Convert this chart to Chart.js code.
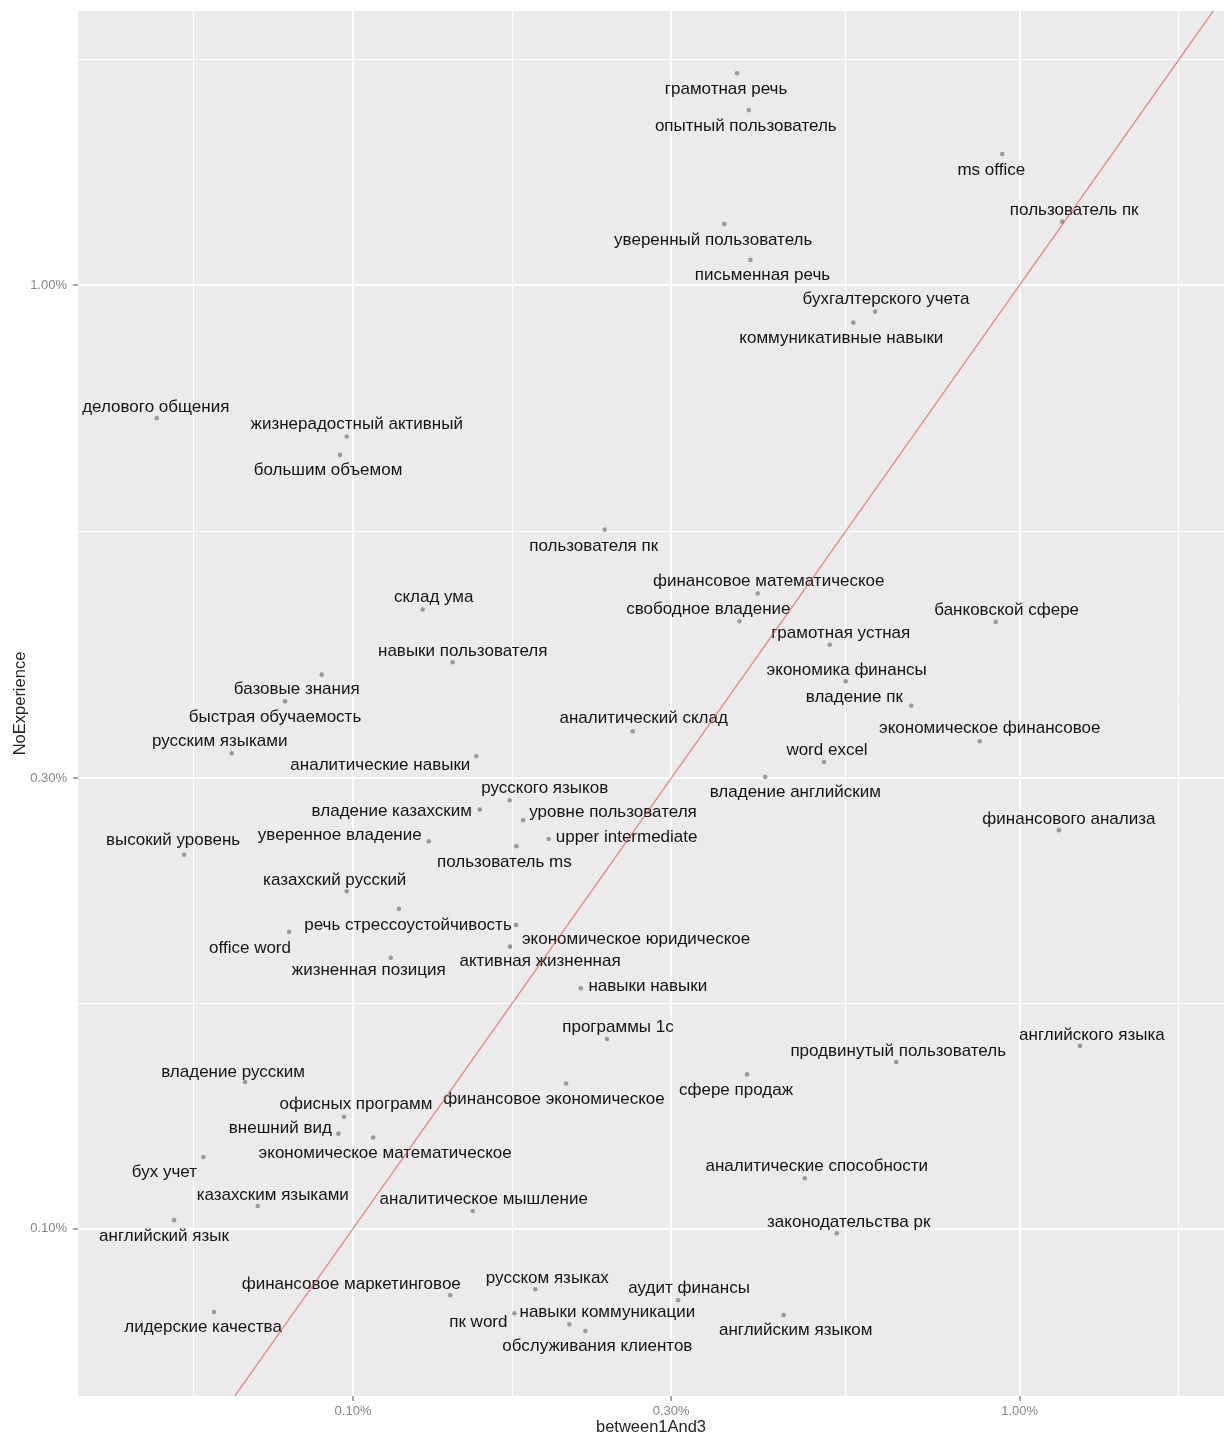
<!DOCTYPE html>
<html>
<head>
<meta charset="utf-8">
<script src="https://cdn.jsdelivr.net/npm/chart.js@4.4.1/dist/chart.umd.min.js"></script>
<style>
  html, body { margin: 0; padding: 0; background: #ffffff; }
  #wrap { width: 1224px; height: 1436px; }
</style>
</head>
<body>
<div id="wrap"><canvas id="termsChart" width="1224" height="1436"></canvas></div>
<script>
// terms and their share (%) among vacancies: between1And3 (x) vs NoExperience (y)
const terms = [
    'грамотная речь', 'опытный пользователь', 'ms office', 'пользователь пк',
    'уверенный пользователь', 'письменная речь', 'бухгалтерского учета', 'коммуникативные навыки',
    'делового общения', 'жизнерадостный активный', 'большим объемом', 'пользователя пк',
    'финансовое математическое', 'склад ума', 'свободное владение', 'банковской сфере',
    'грамотная устная', 'навыки пользователя', 'базовые знания', 'экономика финансы',
    'быстрая обучаемость', 'владение пк', 'аналитический склад', 'экономическое финансовое',
    'русским языками', 'аналитические навыки', 'word excel', 'владение английским',
    'русского языков', 'владение казахским', 'уровне пользователя', 'финансового анализа',
    'upper intermediate', 'уверенное владение', 'пользователь ms', 'высокий уровень',
    'казахский русский', 'речь стрессоустойчивость', 'экономическое юридическое', 'office word',
    'активная жизненная', 'жизненная позиция', 'навыки навыки', 'программы 1с',
    'английского языка', 'продвинутый пользователь', 'сфере продаж', 'владение русским',
    'финансовое экономическое', 'офисных программ', 'внешний вид', 'экономическое математическое',
    'бух учет', 'аналитические способности', 'казахским языками', 'аналитическое мышление',
    'английский язык', 'законодательства рк', 'русском языках', 'финансовое маркетинговое',
    'аудит финансы', 'лидерские качества', 'навыки коммуникации', 'английским языком',
    'пк word', 'обслуживания клиентов'
];

const between1And3 = [
    0.3767, 0.3923, 0.9417, 1.158,
    0.3604, 0.3945, 0.6067, 0.5629,
    0.05077, 0.09785, 0.09561, 0.2385,
    0.4046, 0.1272, 0.3797, 0.9204,
    0.5188, 0.1411, 0.08975, 0.5483,
    0.07907, 0.6877, 0.2627, 0.8710,
    0.06577, 0.1531, 0.5087, 0.4153,
    0.1718, 0.1549, 0.1799, 1.145,
    0.1965, 0.1299, 0.1758, 0.05579,
    0.09785, 0.1172, 0.1756, 0.08017,
    0.1720, 0.1139, 0.2196, 0.2404,
    1.231, 0.6527, 0.3899, 0.06887,
    0.2087, 0.09694, 0.09506, 0.1072,
    0.05964, 0.4760, 0.07196, 0.1512,
    0.05389, 0.5315, 0.1877, 0.1399,
    0.3073, 0.06188, 0.1746, 0.4426,
    0.2111, 0.2231
];

const noExperience = [
    1.676, 1.532, 1.376, 1.167,
    1.160, 1.063, 0.9369, 0.9122,
    0.7225, 0.6909, 0.6605, 0.5505,
    0.4710, 0.4529, 0.4402, 0.4395,
    0.4157, 0.3983, 0.3864, 0.3802,
    0.3621, 0.3582, 0.3366, 0.3285,
    0.3190, 0.3166, 0.3122, 0.3011,
    0.2844, 0.2780, 0.2709, 0.2644,
    0.2588, 0.2573, 0.2542, 0.2490,
    0.2278, 0.2182, 0.2098, 0.2063,
    0.1990, 0.1937, 0.1798, 0.1588,
    0.1562, 0.1502, 0.1457, 0.1430,
    0.1425, 0.1314, 0.1261, 0.1249,
    0.1191, 0.1131, 0.1057, 0.1044,
    0.1021, 0.09888, 0.08626, 0.08500,
    0.08397, 0.08160, 0.08135, 0.08101,
    0.07918, 0.07790
];

// axis breaks and limits (percent)
const xBreaks = [0.1, 0.3, 1.0];
const yBreaks = [0.1, 0.3, 1.0];
const xLimits = [0.03868, 2.025];
const yLimits = [0.06648, 1.951];

// label placement relative to its point, in pixels (text was jittered in the original)
const labelNudge = [
    [-11, 16], [-3, 16], [-11, 16], [12, -11],
    [-11, 16], [12, 15], [11, -12], [-12, 16],
    [-1, -11], [10, -12], [-12, 15], [-11, 17],
    [11, -12], [11, -12], [-31, -12], [11, -12],
    [11, -11], [10, -11], [-25, 15], [1, -11],
    [-10, 16], [-57, -8], [11, -13], [10, -13],
    [-12, -12], [-96, 9], [3, -12], [30, 15],
    [35, -12], [-88, 2], [90, -8], [10, -11],
    [78, -2], [-89, -6], [-12, 16], [-11, -14],
    [-12, -11], [9, 16], [120, 14], [-39, 16],
    [30, 15], [-22, 13], [67, -2], [11, -12],
    [12, -11], [2, -11], [-11, 16], [-12, -10],
    [-12, 16], [12, -12], [-58, -5], [12, 16],
    [-39, 15], [12, -12], [15, -11], [11, -12],
    [-10, 16], [12, -11], [12, -11], [-99, -11],
    [11, -12], [-11, 15], [93, -1], [12, 15],
    [-91, -2], [12, 15]
];

// geometric midpoints between breaks (first step repeated outside) -> minor grid
function withMinor(breaks) {
    const step = breaks[1] / breaks[0];
    const ext = [breaks[0] / step].concat(breaks, [breaks[breaks.length - 1] * step]);
    const list = breaks.map(v => ({ value: v, major: true }));
    for (let i = 0; i < ext.length - 1; i++) {
        list.push({ value: Math.sqrt(ext[i] * ext[i + 1]), major: false });
    }
    return list.sort((a, b) => a.value - b.value);
}

const pointData = terms.map((t, i) => ({ x: between1And3[i], y: noExperience[i] }));
const diagLo = Math.min(xLimits[0], yLimits[0]);
const diagHi = Math.max(xLimits[1], yLimits[1]);
const fontFamily = '"Liberation Sans", Arial, sans-serif';

const panelBackground = {
    id: 'panelBackground',
    beforeDraw(chart) {
        const { ctx, chartArea } = chart;
        ctx.save();
        ctx.fillStyle = '#ebebeb';
        ctx.fillRect(chartArea.left, chartArea.top, chartArea.right - chartArea.left, chartArea.bottom - chartArea.top);
        ctx.restore();
    }
};

const termLabels = {
    id: 'termLabels',
    afterDatasetDraw(chart, args) {
        if (args.index !== 1) return;
        const { ctx, chartArea } = chart;
        const xs = chart.scales.x;
        const ys = chart.scales.y;
        ctx.save();
        ctx.beginPath();
        ctx.rect(chartArea.left, chartArea.top, chartArea.right - chartArea.left, chartArea.bottom - chartArea.top);
        ctx.clip();
        ctx.font = '17px ' + fontFamily;
        ctx.fillStyle = '#141414';
        ctx.textAlign = 'center';
        ctx.textBaseline = 'middle';
        terms.forEach((t, i) => {
            const px = xs.getPixelForValue(between1And3[i]) + labelNudge[i][0];
            const py = ys.getPixelForValue(noExperience[i]) + labelNudge[i][1];
            ctx.fillText(t, px, py);
        });
        ctx.restore();
    }
};

function axisOptions(breaks, limits, title, fixedSize, labelPad) {
    const tickList = withMinor(breaks);
    return {
        type: 'logarithmic',
        min: limits[0],
        max: limits[1],
        bounds: 'data',
        afterBuildTicks: scale => {
            scale.ticks = tickList.map(t => ({ value: t.value, major: t.major }));
        },
        afterFit: fixedSize,
        border: { display: false },
        grid: {
            color: '#ffffff',
            lineWidth: ctx => (ctx.tick && ctx.tick.major ? 2 : 1),
            drawTicks: true,
            tickLength: 5,
            tickWidth: 1,
            tickColor: ctx => (ctx.tick && ctx.tick.major ? '#555555' : 'rgba(0,0,0,0)')
        },
        ticks: {
            autoSkip: false,
            maxRotation: 0,
            padding: labelPad,
            color: '#858585',
            font: { family: fontFamily, size: 13 },
            callback: (value, index, ticks) => (ticks[index].major ? value.toFixed(2) + '%' : '')
        },
        title: {
            display: true,
            text: title,
            color: '#262626',
            font: { family: fontFamily, size: 16.5, lineHeight: 1 },
            padding: { top: 12, bottom: 0 }
        }
    };
}

const xAxis = axisOptions(xBreaks, xLimits, 'between1And3', scale => {
    scale.height = 40;
    scale.paddingLeft = 0;
    scale.paddingRight = 0;
}, 3);
xAxis.title.padding = { top: 0, bottom: 0 };
const yAxis = axisOptions(yBreaks, yLimits, 'NoExperience', scale => {
    scale.width = 78;
    scale.paddingTop = 0;
    scale.paddingBottom = 0;
}, 6);

new Chart(document.getElementById('termsChart'), {
    type: 'scatter',
    data: {
        datasets: [{
            // y = x reference line
            type: 'line',
            data: [{ x: diagLo, y: diagLo }, { x: diagHi, y: diagHi }],
            borderColor: 'rgba(226, 80, 80, 0.7)',
            borderWidth: 1.2,
            pointRadius: 0,
            fill: false
        }, {
            label: 'terms',
            data: pointData,
            pointRadius: 2.3,
            pointBackgroundColor: '#9a9a9a',
            pointBorderWidth: 0
        }]
    },
    options: {
        responsive: false,
        animation: false,
        layout: { autoPadding: false, padding: { top: 11, right: 0, bottom: 0, left: 0 } },
        plugins: {
            legend: { display: false },
            tooltip: { enabled: false }
        },
        scales: {
            x: xAxis,
            y: yAxis
        }
    },
    plugins: [panelBackground, termLabels]
});
</script>
</body>
</html>
